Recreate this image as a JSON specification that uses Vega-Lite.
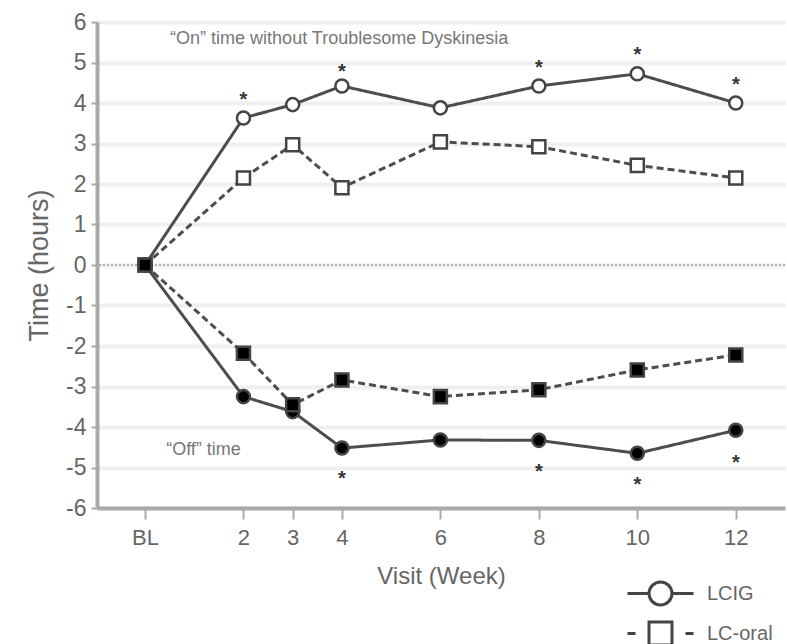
{
  "$schema": "https://vega.github.io/schema/vega-lite/v6.json",
  "width": 688,
  "height": 486,
  "autosize": {"type": "none"},
  "padding": {"left": 97, "top": 22, "right": 2, "bottom": 136},
  "background": "white",
  "config": {
    "view": {"stroke": null},
    "font": "Liberation Sans"
  },
  "datasets": {
    "main": [
      {"week": 0, "value": 0, "drug": "LCIG", "measure": "On", "series": "LCIG On"},
      {"week": 2, "value": 3.63, "drug": "LCIG", "measure": "On", "series": "LCIG On"},
      {"week": 3, "value": 3.96, "drug": "LCIG", "measure": "On", "series": "LCIG On"},
      {"week": 4, "value": 4.42, "drug": "LCIG", "measure": "On", "series": "LCIG On"},
      {"week": 6, "value": 3.88, "drug": "LCIG", "measure": "On", "series": "LCIG On"},
      {"week": 8, "value": 4.42, "drug": "LCIG", "measure": "On", "series": "LCIG On"},
      {"week": 10, "value": 4.72, "drug": "LCIG", "measure": "On", "series": "LCIG On"},
      {"week": 12, "value": 4.0, "drug": "LCIG", "measure": "On", "series": "LCIG On"},
      {"week": 0, "value": 0, "drug": "LC-oral", "measure": "On", "series": "LC-oral On"},
      {"week": 2, "value": 2.15, "drug": "LC-oral", "measure": "On", "series": "LC-oral On"},
      {"week": 3, "value": 2.97, "drug": "LC-oral", "measure": "On", "series": "LC-oral On"},
      {"week": 4, "value": 1.91, "drug": "LC-oral", "measure": "On", "series": "LC-oral On"},
      {"week": 6, "value": 3.04, "drug": "LC-oral", "measure": "On", "series": "LC-oral On"},
      {"week": 8, "value": 2.92, "drug": "LC-oral", "measure": "On", "series": "LC-oral On"},
      {"week": 10, "value": 2.46, "drug": "LC-oral", "measure": "On", "series": "LC-oral On"},
      {"week": 12, "value": 2.15, "drug": "LC-oral", "measure": "On", "series": "LC-oral On"},
      {"week": 0, "value": 0, "drug": "LCIG", "measure": "Off", "series": "LCIG Off"},
      {"week": 2, "value": -3.25, "drug": "LCIG", "measure": "Off", "series": "LCIG Off"},
      {"week": 3, "value": -3.62, "drug": "LCIG", "measure": "Off", "series": "LCIG Off"},
      {"week": 4, "value": -4.52, "drug": "LCIG", "measure": "Off", "series": "LCIG Off"},
      {"week": 6, "value": -4.32, "drug": "LCIG", "measure": "Off", "series": "LCIG Off"},
      {"week": 8, "value": -4.33, "drug": "LCIG", "measure": "Off", "series": "LCIG Off"},
      {"week": 10, "value": -4.65, "drug": "LCIG", "measure": "Off", "series": "LCIG Off"},
      {"week": 12, "value": -4.08, "drug": "LCIG", "measure": "Off", "series": "LCIG Off"},
      {"week": 0, "value": 0, "drug": "LC-oral", "measure": "Off", "series": "LC-oral Off"},
      {"week": 2, "value": -2.18, "drug": "LC-oral", "measure": "Off", "series": "LC-oral Off"},
      {"week": 3, "value": -3.45, "drug": "LC-oral", "measure": "Off", "series": "LC-oral Off"},
      {"week": 4, "value": -2.84, "drug": "LC-oral", "measure": "Off", "series": "LC-oral Off"},
      {"week": 6, "value": -3.25, "drug": "LC-oral", "measure": "Off", "series": "LC-oral Off"},
      {"week": 8, "value": -3.08, "drug": "LC-oral", "measure": "Off", "series": "LC-oral Off"},
      {"week": 10, "value": -2.59, "drug": "LC-oral", "measure": "Off", "series": "LC-oral Off"},
      {"week": 12, "value": -2.22, "drug": "LC-oral", "measure": "Off", "series": "LC-oral Off"}
    ],
    "stars": [
      {"week": 2, "value": 4.2},
      {"week": 4, "value": 4.89},
      {"week": 8, "value": 4.99},
      {"week": 10, "value": 5.31},
      {"week": 12, "value": 4.57},
      {"week": 4, "value": -5.15},
      {"week": 8, "value": -4.98},
      {"week": 10, "value": -5.3},
      {"week": 12, "value": -4.77}
    ],
    "notes": [
      {"week": 0.51, "value": 5.58, "label": "“On” time without Troublesome Dyskinesia"},
      {"week": 0.43, "value": -4.57, "label": "“Off” time"}
    ],
    "zero": [{"value": 0}]
  },
  "encoding": {
    "x": {
      "field": "week",
      "type": "quantitative",
      "scale": {"domain": [-0.975, 13], "nice": false, "zero": false},
      "axis": {
        "title": "Visit (Week)",
        "values": [0, 2, 3, 4, 6, 8, 10, 12],
        "labelExpr": "datum.value === 0 ? 'BL' : datum.label",
        "grid": false,
        "domainColor": "#aaaaaa",
        "domainWidth": 4,
        "tickColor": "#aaaaaa",
        "tickWidth": 2,
        "tickSize": 11,
        "labelFontSize": 22,
        "labelColor": "#666666",
        "labelPadding": 8,
        "titleFontSize": 24,
        "titleFontWeight": "normal",
        "titleColor": "#666666",
        "titlePadding": 16
      }
    },
    "y": {
      "field": "value",
      "type": "quantitative",
      "scale": {"domain": [-6, 6], "nice": false},
      "axis": {
        "title": "Time (hours)",
        "values": [-6, -5, -4, -3, -2, -1, 0, 1, 2, 3, 4, 5, 6],
        "labelExpr": "datum.value < 0 ? '-' + abs(datum.value) : '' + datum.value",
        "grid": true,
        "gridColor": "#efefef",
        "gridWidth": 4,
        "domainColor": "#aaaaaa",
        "domainWidth": 4,
        "tickColor": "#aaaaaa",
        "tickWidth": 2,
        "tickSize": 6,
        "labelFontSize": 23,
        "labelColor": "#666666",
        "labelPadding": 5,
        "titleFontSize": 27,
        "titleFontWeight": "normal",
        "titleColor": "#666666",
        "titlePadding": 12
      }
    }
  },
  "resolve": {"scale": {"shape": "independent"}, "legend": {"shape": "independent"}},
  "layer": [
    {
      "data": {"name": "zero"},
      "mark": {"type": "rule", "color": "#b0b0b0", "strokeWidth": 2, "strokeDash": [2, 2]},
      "encoding": {"y": {"field": "value", "type": "quantitative"}, "x": null}
    },
    {
      "data": {"name": "main"},
      "mark": {"type": "line", "color": "#4d4d4d", "strokeWidth": 3},
      "encoding": {
        "detail": {"field": "series"},
        "order": {"field": "week", "type": "quantitative"},
        "strokeDash": {
          "field": "drug",
          "type": "nominal",
          "scale": {"domain": ["LCIG", "LC-oral"], "range": [[1, 0], [7, 4]]},
          "legend": null
        }
      }
    },
    {
      "data": {"name": "main"},
      "mark": {"type": "point", "filled": true, "stroke": "#444444", "strokeWidth": 2.5, "size": 170, "opacity": 1},
      "encoding": {
        "shape": {
          "field": "drug",
          "type": "nominal",
          "scale": {"domain": ["LCIG", "LC-oral"], "range": ["circle", "square"]},
          "legend": null
        },
        "fill": {
          "field": "measure",
          "type": "nominal",
          "scale": {"domain": ["On", "Off"], "range": ["white", "black"]},
          "legend": null
        }
      }
    },
    {
      "data": {"name": "main"},
      "transform": [{"filter": "datum.week < -100"}],
      "mark": {"type": "point", "filled": false, "color": "#444444", "strokeWidth": 3, "opacity": 1},
      "encoding": {
        "shape": {
          "field": "drug",
          "type": "nominal",
          "scale": {
            "domain": ["LCIG", "LC-oral"],
            "range": [
              "M-3.3,0H-1.15M1.15,0H3.3M-1.15,0A1.15,1.15 0 1,0 1.15,0A1.15,1.15 0 1,0 -1.15,0Z",
              "M-3.3,0H-2.5M2.5,0H3.3M-1.15,-1.15H1.15V1.15H-1.15Z"
            ]
          },
          "legend": {
            "title": null,
            "orient": "none",
            "legendX": 552,
            "legendY": 560,
            "padding": 0,
            "labelFontSize": 20,
            "labelColor": "#666666",
            "labelOffset": 35,
            "symbolSize": 400,
            "symbolStrokeWidth": 3,
            "symbolStrokeColor": "#444444",
            "symbolOpacity": 1,
            "rowPadding": 5
          }
        }
      }
    },
    {
      "data": {"name": "stars"},
      "mark": {"type": "text", "text": "*", "fontSize": 20, "color": "#333333", "baseline": "alphabetic", "dy": 11, "fontWeight": "bold"},
      "encoding": {}
    },
    {
      "data": {"name": "notes"},
      "mark": {"type": "text", "fontSize": 18, "color": "#777777", "align": "left", "baseline": "middle"},
      "encoding": {"text": {"field": "label"}}
    }
  ]
}
